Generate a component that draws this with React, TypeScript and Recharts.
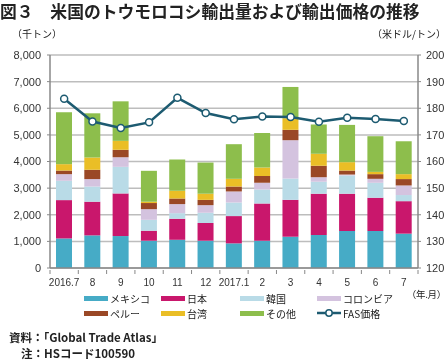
import React from 'react';
import { ComposedChart, Bar, Line, XAxis, YAxis, CartesianGrid } from 'recharts';

const months = ['2016.7', '8', '9', '10', '11', '12', '2017.1', '2', '3', '4', '5', '6', '7'];

const mexico = [1110, 1225, 1200, 1025, 1060, 1025, 925, 1025, 1175, 1240, 1390, 1390, 1290];
const japan = [1440, 1265, 1600, 375, 790, 665, 1025, 1400, 1385, 1550, 1400, 1250, 1220];
const korea = [725, 570, 1000, 410, 210, 385, 510, 525, 800, 450, 685, 560, 230];
const colombia = [250, 280, 360, 400, 340, 285, 415, 250, 1440, 170, 35, 150, 360];
const peru = [135, 350, 280, 230, 210, 200, 185, 260, 390, 430, 150, 175, 240];
const taiwan = [240, 460, 335, 50, 290, 230, 290, 315, 435, 450, 315, 85, 185];
const others = [1950, 1660, 1485, 1160, 1175, 1170, 1300, 1300, 1175, 1100, 1400, 1340, 1235];

// 米ドル/トン
const fasPrice = [183.6, 175.0, 172.6, 174.7, 183.9, 178.2, 175.9, 176.9, 176.7, 174.9, 176.4, 176.0, 175.2];

const leftTicks = [0, 1000, 2000, 3000, 4000, 5000, 6000, 7000, 8000];
const rightTicks = [120, 130, 140, 150, 160, 170, 180, 190, 200];

const series = [
  { key: 'mexico', name: 'メキシコ', color: '#46abc6', values: mexico },
  { key: 'japan', name: '日本', color: '#c9176c', values: japan },
  { key: 'korea', name: '韓国', color: '#b9dbe7', values: korea },
  { key: 'colombia', name: 'コロンビア', color: '#d4c3df', values: colombia },
  { key: 'peru', name: 'ペルー', color: '#9a4826', values: peru },
  { key: 'taiwan', name: '台湾', color: '#eabe26', values: taiwan },
  { key: 'others', name: 'その他', color: '#8dbe4c', values: others },
];

const data = months.map((m, i) => {
  const row: any = { month: m, price: fasPrice[i] };
  series.forEach((s) => {
    row[s.key] = s.values[i];
  });
  return row;
});

const FONT = '"Liberation Sans", "Noto Sans CJK JP", sans-serif';
const JP = '"Noto Sans CJK JP", "Liberation Sans", sans-serif';
const LINE_COLOR = '#1d5b71';

const PLOT_LEFT = 50;
const PLOT_RIGHT = 418;
const HALF_BAND = (PLOT_RIGHT - PLOT_LEFT) / months.length / 2;

const XTick = (props: any) => {
  const { x, y, payload, index } = props;
  return (
    <g>
      <line x1={x - HALF_BAND} y1={y} x2={x - HALF_BAND} y2={y + 4} stroke="#888" strokeWidth={1} />
      {index === months.length - 1 && (
        <line x1={x + HALF_BAND} y1={y} x2={x + HALF_BAND} y2={y + 4} stroke="#888" strokeWidth={1} />
      )}
      <text x={x} y={y + 16} textAnchor="middle" fontSize={10} fill="#333" fontFamily={FONT}>
        {payload.value}
      </text>
    </g>
  );
};

const legendRows = [
  [series[0], series[1], series[2], series[3]],
  [series[4], series[5], series[6], null],
];
const legendX = [84, 161, 240, 317];

export default function App() {
  return (
    <div
      style={{
        position: 'fixed',
        left: 0,
        top: 0,
        width: 446,
        height: 360,
        background: '#fff',
        fontFamily: JP,
        color: '#222',
      }}
    >
      <div
        style={{
          position: 'absolute',
          left: 0,
          top: 1,
          fontSize: 16.8,
          fontWeight: 'bold',
          whiteSpace: 'nowrap',
          lineHeight: '20px',
        }}
      >
        図３　米国のトウモロコシ輸出量および輸出価格の推移
      </div>
      <div style={{ position: 'absolute', left: 12, top: 27, fontSize: 10, lineHeight: '14px' }}>（千トン）</div>
      <div style={{ position: 'absolute', right: 0, top: 27, fontSize: 10, lineHeight: '14px' }}>（米ドル/トン）</div>

      <div style={{ position: 'absolute', left: 0, top: 0 }}>
        <ComposedChart
          width={446}
          height={290}
          data={data}
          margin={{ top: 55, right: 0, bottom: 2, left: 0 }}
          barSize={16}
        >
          <CartesianGrid vertical={false} stroke="#bdbdbd" strokeWidth={1.5} yAxisId="left" />
          <XAxis
            dataKey="month"
            tick={<XTick />}
            tickLine={false}
            axisLine={{ stroke: '#888', strokeWidth: 1.5 }}
            height={20}
            tickSize={0}
            interval={0}
          />
          <YAxis
            yAxisId="left"
            domain={[0, 8000]}
            ticks={leftTicks}
            width={50}
            tickFormatter={(v: number) => v.toLocaleString('en-US')}
            tick={{ fontSize: 11, fill: '#333', fontFamily: FONT }}
            axisLine={{ stroke: '#888', strokeWidth: 1.5 }}
            tickLine={{ stroke: '#888' }}
            tickSize={3}
            tickMargin={6}
            interval={0}
          />
          <YAxis
            yAxisId="right"
            orientation="right"
            domain={[120, 200]}
            ticks={rightTicks}
            width={28}
            tick={{ fontSize: 11, fill: '#333', fontFamily: FONT }}
            axisLine={{ stroke: '#888', strokeWidth: 1.5 }}
            tickLine={{ stroke: '#888' }}
            tickSize={3}
            tickMargin={5}
            interval={0}
          />
          {series.map((s) => (
            <Bar
              key={s.key}
              yAxisId="left"
              dataKey={s.key}
              stackId="a"
              fill={s.color}
              isAnimationActive={false}
            />
          ))}
          <Line
            yAxisId="right"
            dataKey="price"
            stroke={LINE_COLOR}
            strokeWidth={2.5}
            dot={{ r: 3.5, fill: '#fff', stroke: LINE_COLOR, strokeWidth: 1.5 }}
            isAnimationActive={false}
          />
        </ComposedChart>
      </div>

      <div style={{ position: 'absolute', right: 0, top: 289, fontSize: 9.5, lineHeight: '11px', whiteSpace: 'nowrap', letterSpacing: -0.3 }}>
        （年.月）
      </div>

      {legendRows.map((row, r) =>
        row.map((s, c) => (
          <div
            key={`${r}-${c}`}
            style={{
              position: 'absolute',
              left: legendX[c],
              top: 291 + r * 15,
              height: 14,
              display: 'flex',
              alignItems: 'center',
              fontSize: 10,
              whiteSpace: 'nowrap',
            }}
          >
            {s ? (
              <span style={{ display: 'inline-block', width: 24, height: 5, background: s.color, marginRight: 2 }} />
            ) : (
              <svg width={24} height={10} style={{ marginRight: 2 }}>
                <line x1={0} y1={5} x2={24} y2={5} stroke={LINE_COLOR} strokeWidth={2.5} />
                <circle cx={12} cy={5} r={3.2} fill="#fff" stroke={LINE_COLOR} strokeWidth={1.5} />
              </svg>
            )}
            <span>{s ? s.name : 'FAS価格'}</span>
          </div>
        ))
      )}

      <div style={{ position: 'absolute', left: 9, top: 330, fontSize: 11.5, fontWeight: 'bold', lineHeight: '14px', whiteSpace: 'nowrap' }}>
        資料：「Global Trade Atlas」
      </div>
      <div style={{ position: 'absolute', left: 21, top: 346, fontSize: 11.5, fontWeight: 'bold', lineHeight: '14px', whiteSpace: 'nowrap' }}>
        注：HSコード100590
      </div>
    </div>
  );
}
